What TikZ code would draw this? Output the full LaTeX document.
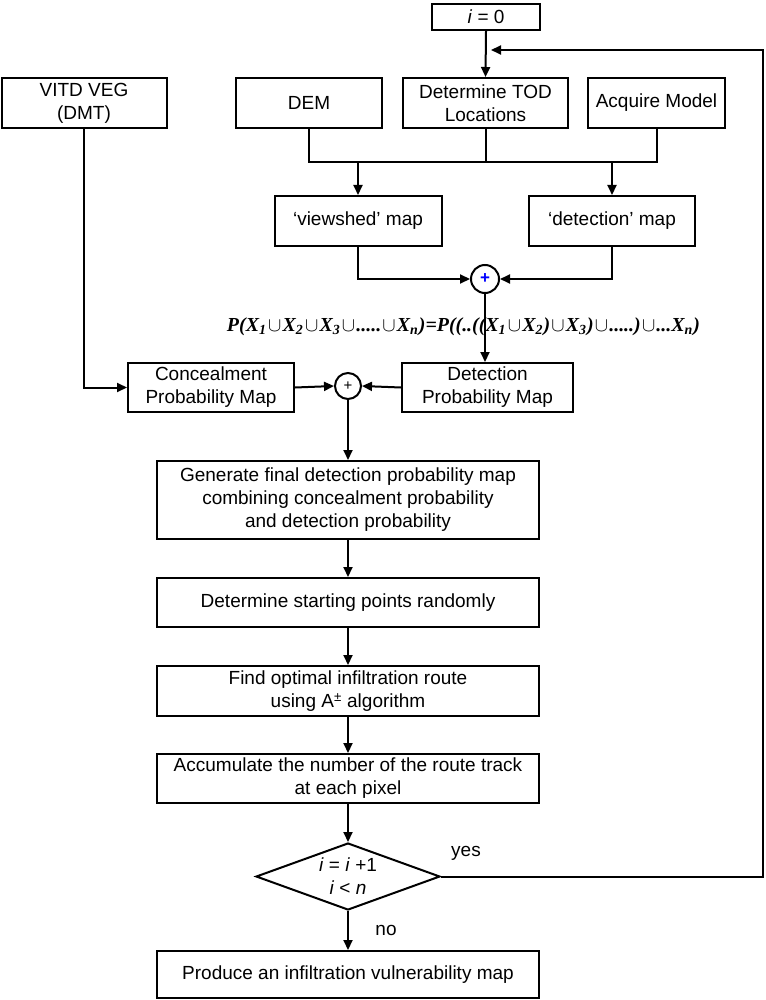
\documentclass[tikz,border=0pt]{standalone}
\usepackage{fontspec}
\setmainfont{Liberation Sans}
\newfontfamily\fserif{Liberation Serif}
\usepackage{graphicx}
\usetikzlibrary{arrows.meta,shapes.geometric}
\newcommand\un{\hspace{0.06em}$\cup$\hspace{0.06em}}
\newcommand\sub[1]{\textsubscript{#1}}
\begin{document}
\begin{tikzpicture}[x=1pt,y=-1pt,
  box/.style={draw,line width=2pt,inner sep=0pt,align=center,font=\fontsize{19}{23}\selectfont},
  sumnode/.style={draw,circle,line width=2pt,inner sep=0pt,minimum size=28pt,font=\fontsize{17}{17}\selectfont\bfseries},
  decision/.style={draw,diamond,line width=2pt,inner sep=0pt,aspect=2.75,align=center,font=\fontsize{19}{23}\selectfont},
  link/.style={line width=2pt},
  arr/.style={line width=2pt,-{Triangle[length=10pt,width=9pt]}},
  lbl/.style={font=\fontsize{19}{23}\selectfont}]
\useasboundingbox (0,0) rectangle (765,1000);
% boxes
\node[box,minimum width=108pt,minimum height=26pt] (i0) at (486,17) {\textit{i} = 0};
\node[box,minimum width=165pt,minimum height=50pt] (tod) at (485.5,103) {Determine TOD\\Locations};
\node[box,minimum width=137pt,minimum height=50pt] (acq) at (656.5,103) {Acquire Model};
\node[box,minimum width=146pt,minimum height=50pt] (dem) at (309,103) {DEM};
\node[box,minimum width=165pt,minimum height=50pt] (vitd) at (84,103) {VITD VEG\\(DMT)};
\node[box,minimum width=167pt,minimum height=50pt] (view) at (358,221) {‘viewshed’ map};
\node[box,minimum width=166pt,minimum height=50pt] (det) at (612,221) {‘detection’ map};
\node[sumnode] (c1) at (485,279) {\textcolor{blue}{+}};
\node[box,minimum width=171pt,minimum height=49pt] (dpm) at (487.5,387.5) {Detection\\Probability Map};
\node[box,minimum width=166pt,minimum height=49pt] (cpm) at (211,387.5) {Concealment\\Probability Map};
\node[sumnode,minimum size=26pt,font=\fontsize{15}{15}\selectfont] (c2) at (348,386) {+};
\node[box,minimum width=382pt,minimum height=78pt] (gen) at (348,500) {Generate final detection probability map\\combining concealment probability\\and detection probability};
\node[box,minimum width=382pt,minimum height=49pt] (start) at (348,602.5) {Determine starting points randomly};
\node[box,minimum width=382pt,minimum height=50pt] (find) at (348,691) {Find optimal infiltration route\\using A\textsuperscript{±} algorithm};
\node[box,minimum width=382pt,minimum height=49pt] (acc) at (348,778.5) {Accumulate the number of the route track\\at each pixel};
\node[decision,minimum width=184pt,minimum height=67pt] (dia) at (348,876.5) {\textit{i} = \textit{i} +1\\\textit{i} {<} \textit{n}};
\node[box,minimum width=382pt,minimum height=47pt] (prod) at (348,974.5) {Produce an infiltration vulnerability map};
% formula
\node[inner sep=0pt] (formula) at (463.5,327) {\resizebox{473pt}{!}{\fserif\bfseries\itshape P(X\sub{1}\un X\sub{2}\un X\sub{3}\un.....\un X\sub{n})=P((..((X\sub{1}\un X\sub{2})\un X\sub{3})\un.....)\un...X\sub{n})}};
% labels
\node[lbl] (yes) at (466,853) {yes};
\node[lbl] (no) at (386,930) {no};
% connectors
\coordinate (busL) at (309,162);
\coordinate (busR) at (656.5,162);
\draw[link] (dem.south) -- (busL) -- (busR) -- (acq.south);
\draw[link] (tod.south) -- (tod.south |- busL);
\draw[arr] (view.north |- busL) -- (view.north);
\draw[arr] (det.north |- busL) -- (det.north);
\draw[arr] (i0.south) -- (tod.north);
\draw[arr] (view.south) |- (c1.west);
\draw[arr] (det.south) |- (c1.east);
\draw[arr] (c1.south) -- (c1.south |- dpm.north);
\draw[arr] (vitd.south) |- (cpm.west);
\draw[arr] (cpm.east) -- (c2.west);
\draw[arr] (dpm.west) -- (c2.east);
\draw[arr] (c2.south) -- (gen.north);
\draw[arr] (gen.south) -- (start.north);
\draw[arr] (start.south) -- (find.north);
\draw[arr] (find.south) -- (acc.north);
\draw[arr] (acc.south) -- (dia.north);
\draw[arr] (dia.south) -- (prod.north);
\coordinate (fbR) at (763,876.5);
\coordinate (fbT) at (763,50);
\coordinate (fbE) at (491,50);
\draw[arr] (dia.east) -- (fbR) -- (fbT) -- (fbE);
\end{tikzpicture}
\end{document}
